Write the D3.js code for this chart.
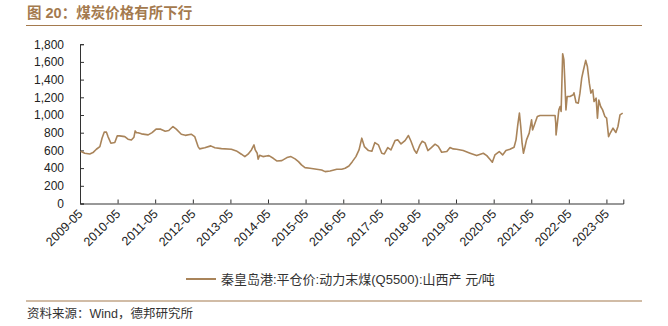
<!DOCTYPE html>
<html><head><meta charset="utf-8">
<script src="https://cdn.jsdelivr.net/npm/d3@7/dist/d3.min.js"></script>
<style>
body{margin:0;background:#fff;}
svg{display:block;}
text{font-family:Arial,"Liberation Sans","Noto Sans CJK SC",sans-serif;}
</style></head><body>
<svg id="c" width="668" height="326"></svg>
<script>
const title = "图 20：煤炭价格有所下行";
const source = "资料来源：Wind，德邦研究所";
const seriesName = "秦皇岛港:平仓价:动力末煤(Q5500):山西产 元/吨";
const dates = ["2009-05-07","2009-06-16","2009-08-04","2009-09-04","2009-10-07","2009-11-10","2009-12-01","2009-12-22","2010-01-13","2010-01-28","2010-02-25","2010-04-04","2010-04-28","2010-05-21","2010-07-10","2010-08-10","2010-09-12","2010-10-07","2010-10-19","2010-11-01","2010-11-16","2010-12-19","2011-02-22","2011-04-01","2011-05-10","2011-06-24","2011-08-07","2011-09-10","2011-10-21","2011-11-22","2012-01-10","2012-02-18","2012-04-15","2012-05-19","2012-06-21","2012-07-06","2012-08-25","2012-10-22","2012-12-01","2013-02-03","2013-05-10","2013-06-28","2013-08-16","2013-09-18","2013-10-19","2013-11-21","2013-12-16","2013-12-28","2014-01-16","2014-01-25","2014-02-09","2014-03-13","2014-04-16","2014-05-10","2014-06-21","2014-07-25","2014-09-12","2014-11-01","2014-12-10","2015-01-19","2015-02-21","2015-03-22","2015-04-25","2015-06-13","2015-08-16","2015-10-04","2015-11-07","2015-12-25","2016-02-28","2016-04-16","2016-05-19","2016-06-25","2016-07-28","2016-09-01","2016-10-01","2016-10-28","2016-11-22","2017-01-01","2017-02-03","2017-03-04","2017-04-07","2017-05-10","2017-06-04","2017-07-07","2017-08-07","2017-09-16","2017-10-12","2017-11-13","2017-12-22","2018-01-24","2018-02-18","2018-03-22","2018-04-13","2018-05-16","2018-06-07","2018-07-04","2018-08-01","2018-09-01","2018-10-10","2018-11-10","2018-12-13","2019-02-01","2019-03-04","2019-04-04","2019-05-07","2019-07-10","2019-09-15","2019-11-18","2020-01-21","2020-02-24","2020-03-25","2020-04-18","2020-05-13","2020-06-24","2020-07-27","2020-08-28","2020-10-06","2020-11-15","2020-12-04","2020-12-21","2021-01-06","2021-01-19","2021-02-01","2021-02-14","2021-02-28","2021-03-16","2021-04-11","2021-05-04","2021-05-14","2021-06-01","2021-06-29","2021-07-25","2021-12-18","2021-12-25","2021-12-28","2022-01-10","2022-01-24","2022-02-05","2022-02-15","2022-02-25","2022-03-02","2022-03-14","2022-03-24","2022-04-03","2022-04-15","2022-05-12","2022-06-13","2022-06-20","2022-07-10","2022-08-01","2022-08-17","2022-09-03","2022-09-19","2022-10-12","2022-10-28","2022-11-16","2022-12-01","2022-12-19","2023-01-01","2023-01-21","2023-02-03","2023-02-16","2023-03-06","2023-03-25","2023-04-16","2023-05-03","2023-05-22","2023-06-10","2023-07-04","2023-08-01","2023-08-21","2023-09-10","2023-10-06"];
const prices = [590,568,560,575,613,643,738,806,806,756,681,690,764,764,756,727,718,749,820,800,800,787,775,801,840,840,817,825,870,840,783,770,783,756,643,617,630,651,630,620,613,594,557,530,557,605,662,605,568,500,545,530,537,541,511,481,485,519,530,504,473,436,405,398,387,379,360,368,387,387,398,424,473,530,605,738,643,598,590,688,663,568,560,632,605,711,719,673,711,768,703,605,568,662,703,685,598,628,670,645,579,587,632,617,613,598,568,541,568,541,500,466,549,587,549,598,613,636,719,889,1021,870,681,568,636,719,795,945,832,889,983,995,995,908,775,908,1058,1096,1040,1474,1692,1624,1360,1058,1209,1209,1228,1250,1141,1134,1247,1417,1503,1617,1549,1360,1247,1285,1152,1190,964,1170,1096,1058,983,964,756,802,851,802,870,1002,1021];
const yTicks = [0,200,400,600,800,1000,1200,1400,1600,1800];
const xTickLabels = ["2009-05","2010-05","2011-05","2012-05","2013-05","2014-05","2015-05","2016-05","2017-05","2018-05","2019-05","2020-05","2021-05","2022-05","2023-05"];

const brown = "#a9845a";
const titleColor = "#a47a4e";
const parse = d3.timeParse("%Y-%m-%d");
const parseM = d3.timeParse("%Y-%m");
const data = dates.map((d,i)=>({date:parse(d), v:prices[i]}));

const svg = d3.select("#c");
const x = d3.scaleTime().domain([parseM("2009-05"), parse("2023-10-12")]).range([80, 623.3]);
const y = d3.scaleLinear().domain([0,1800]).range([203.5, 44.2]);

// header
svg.append("text").attr("x",27).attr("y",18).attr("fill",titleColor)
  .attr("font-size",14.5).attr("font-weight","bold").text(title);
svg.append("line").attr("x1",26).attr("x2",642).attr("y1",25.5).attr("y2",25.5)
  .attr("stroke",titleColor).attr("stroke-width",1.2);

// y axis
const yAxis = d3.axisLeft(y).tickValues(yTicks).tickSize(-4).tickPadding(16)
  .tickFormat(d3.format(","));
const gy = svg.append("g").attr("transform","translate(80,0)").call(yAxis);
gy.selectAll("text").attr("font-size",12).attr("fill","#222");
gy.select(".domain").attr("stroke","#333");
gy.selectAll(".tick line").attr("stroke","#333");

// x axis
const xAxis = d3.axisBottom(x).tickValues(xTickLabels.map(parseM)).tickSize(-4)
  .tickFormat(d3.timeFormat("%Y-%m"));
const gx = svg.append("g").attr("transform","translate(0,203.5)").call(xAxis);
gx.select(".domain").attr("stroke","#333");
gx.selectAll(".tick line").attr("stroke","#333");
gx.selectAll(".tick text").attr("font-size",12.5).attr("fill","#222")
  .attr("text-anchor","end").attr("dy",null).attr("y",null)
  .attr("transform","translate(3,11) rotate(-45)");

// line
svg.append("path").datum(data).attr("fill","none").attr("stroke",brown)
  .attr("stroke-width",1.6).attr("stroke-linejoin","round")
  .attr("d", d3.line().x(d=>x(d.date)).y(d=>y(d.v)));

// legend
svg.append("line").attr("x1",186).attr("x2",216).attr("y1",279).attr("y2",279)
  .attr("stroke",brown).attr("stroke-width",2);
svg.append("text").attr("x",221).attr("y",283.5).attr("font-size",13).attr("fill","#333")
  .text(seriesName);

// footer
svg.append("line").attr("x1",26).attr("x2",642).attr("y1",301).attr("y2",301)
  .attr("stroke",titleColor).attr("stroke-width",1.2);
svg.append("text").attr("x",27).attr("y",318).attr("font-size",12.5).attr("fill","#333")
  .text(source);
</script></body></html>
